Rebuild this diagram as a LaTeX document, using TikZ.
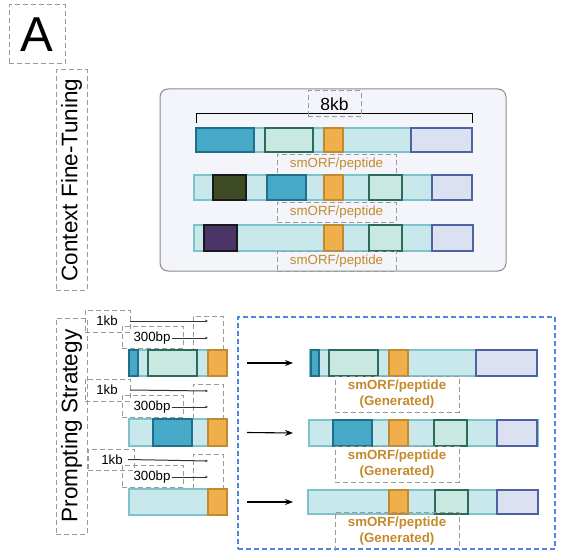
\documentclass[tikz,border=0pt]{standalone}
\usepackage{fontspec}
\setmainfont{Liberation Sans}
\usetikzlibrary{arrows.meta}
\definecolor{bbFill}{HTML}{C9E8EB}
\definecolor{bbEdge}{HTML}{7DC3CB}
\definecolor{bluF}{HTML}{45A9C7}
\definecolor{bluE}{HTML}{1F6F88}
\definecolor{grnF}{HTML}{C9E8DF}
\definecolor{grnE}{HTML}{2B6A5C}
\definecolor{orgF}{HTML}{F0AF4A}
\definecolor{orgE}{HTML}{C08A30}
\definecolor{lavF}{HTML}{DCE1F1}
\definecolor{lavE}{HTML}{4C62A2}
\definecolor{dkgF}{HTML}{3D4A23}
\definecolor{purF}{HTML}{4B3468}
\definecolor{txtO}{HTML}{C4892C}
\definecolor{panelF}{HTML}{F3F5FA}
\definecolor{panelE}{HTML}{8C8C8C}
\definecolor{dashG}{HTML}{9A9A9A}
\definecolor{blueD}{HTML}{4F87E0}
\newcommand\seg[7]{\node[#1,minimum width={(#4-#2)*1pt},minimum height={(#5-#3)*1pt}] (#6) at ({(#2+#4)/2},{(#3+#5)/2}) {#7};}
\tikzset{
  base/.style={rectangle,inner sep=0pt,outer sep=0pt},
  bb/.style={base,draw=bbEdge,fill=bbFill,line width=1.6pt},
  sblue/.style={base,draw=bluE,fill=bluF,line width=1.8pt},
  sgrn/.style={base,draw=grnE,fill=grnF,line width=1.8pt},
  sorg/.style={base,draw=orgE,fill=orgF,line width=1.8pt},
  slav/.style={base,draw=lavE,fill=lavF,line width=1.8pt},
  sdkg/.style={base,draw=black!90,fill=dkgF,line width=1.8pt},
  spur/.style={base,draw=black!90,fill=purF,line width=1.8pt},
  dbox/.style={base,draw=dashG,dash pattern=on 5pt off 3pt,line width=1pt},
  lbl/.style={text=txtO,font=\fontsize{13.3}{16}\selectfont},
  glbl/.style={text=txtO,font=\fontsize{13.3}{16}\selectfont\bfseries,align=center},
  small/.style={font=\fontsize{13.3}{16}\selectfont,inner sep=1pt},
  ruler/.style={line width=1pt,draw=black!80,-{Stealth[length=3pt,width=2.5pt]}},
  arr/.style={line width=1.1pt,-{Stealth[length=8pt,width=6pt]}},
}
\begin{document}
\begin{tikzpicture}[x=1pt,y=-1pt]
\useasboundingbox (0,0) rectangle (563,551);
% panel label
\seg{dbox}{9}{5}{65}{64}{A}{\fontsize{49}{50}\selectfont A}
% side titles
\seg{dbox}{56}{70}{87}{290}{ctx}{}
\node[rotate=90,font=\fontsize{22.5}{24}\selectfont] (ctxT) at (ctx.center) {Context Fine-Tuning};
\seg{dbox}{56}{318}{87}{534}{pro}{}
\node[rotate=90,font=\fontsize{22.5}{24}\selectfont] (proT) at (pro.center) {Prompting Strategy};
% top panel
\node[base,draw=panelE,fill=panelF,line width=1pt,rounded corners=8pt,minimum width=346pt,minimum height=182pt] (panel) at (333,180) {};
% row 1
\seg{bb}{196}{128}{472}{152}{r1}{}
\seg{sblue}{196}{128}{254}{152}{r1a}{}
\seg{sgrn}{265}{128}{313}{152}{r1b}{}
\seg{sorg}{324}{128}{343}{152}{r1c}{}
\seg{slav}{411}{128}{472}{152}{r1d}{}
\draw[line width=1pt] ([yshift=5pt]r1.north west) |- ([yshift=14pt]r1.north east) -- ([yshift=5pt]r1.north east);
\seg{dbox}{308}{91}{361}{117}{kb8}{\fontsize{17.5}{20}\selectfont 8kb}
\seg{dbox,lbl}{277}{154}{396}{174}{l1}{smORF/peptide}
% row 2
\seg{bb}{194}{175}{472}{200}{r2}{}
\seg{sdkg}{213}{175}{246}{200}{r2a}{}
\seg{sblue}{267}{175}{306}{200}{r2b}{}
\seg{sorg}{324}{175}{343}{200}{r2c}{}
\seg{sgrn}{369}{175}{402}{200}{r2d}{}
\seg{slav}{432}{175}{472}{200}{r2e}{}
\seg{dbox,lbl}{277}{202}{396}{222}{l2}{smORF/peptide}
% row 3
\seg{bb}{194}{225}{473}{251}{r3}{}
\seg{spur}{204}{225}{237}{251}{r3a}{}
\seg{sorg}{324}{225}{343}{251}{r3b}{}
\seg{sgrn}{369}{225}{402}{251}{r3c}{}
\seg{slav}{432}{225}{473}{251}{r3d}{}
\seg{dbox,lbl}{277}{251}{396}{271}{l3}{smORF/peptide}
% prompting groups
% group 1
\seg{dbox}{85}{310}{130}{332}{k1}{}
\node[small] (k1t) at (107,321) {1kb};
\seg{dbox}{122}{326}{183}{348}{p1}{}
\node[small] (p1t) at (152,338) {300bp};
\seg{dbox}{193}{316}{223}{352}{w1}{}
\coordinate (k1e) at (208,321);
\coordinate (p1e) at (208,338);
\draw[ruler] (k1.east) -- (k1e);
\draw[ruler] (p1t.east) -- (p1e);
\seg{bb}{129}{350}{227}{376}{L1}{}
\seg{sblue}{129}{350}{138}{376}{L1a}{}
\seg{sgrn}{148}{350}{197}{376}{L1b}{}
\seg{sorg}{208}{350}{227}{376}{L1c}{}
% group 2
\seg{dbox}{85}{379}{130}{401}{k2}{}
\node[small] (k2t) at (107,390) {1kb};
\seg{dbox}{122}{395}{183}{417}{p2}{}
\node[small] (p2t) at (152,407) {300bp};
\seg{dbox}{193}{384}{223}{422}{w2}{}
\coordinate (k2e) at (208,391);
\coordinate (p2e) at (208,407);
\draw[ruler] (k2.east) -- (k2e);
\draw[ruler] (p2t.east) -- (p2e);
\seg{bb}{129}{419}{227}{446}{L2}{}
\seg{sblue}{153}{419}{192}{446}{L2a}{}
\seg{sorg}{208}{419}{227}{446}{L2b}{}
% group 3
\seg{dbox}{88}{449}{134}{470}{k3}{}
\node[small] (k3t) at (112,460) {1kb};
\seg{dbox}{122}{465}{183}{487}{p3}{}
\node[small] (p3t) at (152,477) {300bp};
\seg{dbox}{193}{454}{223}{492}{w3}{}
\coordinate (k3e) at (208,461);
\coordinate (p3e) at (208,477);
\draw[ruler] ([xshift=-6pt]k3.east) -- (k3e);
\draw[ruler] (p3t.east) -- (p3e);
\seg{bb}{129}{489}{227}{515}{L3}{}
\seg{sorg}{208}{489}{227}{515}{L3a}{}
% generated panel
\node[base,draw=blueD,dash pattern=on 5pt off 3pt,line width=1.3pt,minimum width=317pt,minimum height=232pt] (gen) at (396.5,433) {};
% row A
\seg{bb}{310}{350}{537}{376}{R1}{}
\seg{sblue}{311}{350}{319}{376}{R1a}{}
\seg{sgrn}{329}{350}{378}{376}{R1b}{}
\seg{sorg}{389}{350}{408}{376}{R1c}{}
\seg{slav}{476}{350}{537}{376}{R1d}{}
\seg{dbox,glbl}{335}{376}{459}{412}{g1}{smORF/peptide\\(Generated)}
% row B
\seg{bb}{309}{420}{538}{446}{R2}{}
\seg{sblue}{333}{420}{372}{446}{R2a}{}
\seg{sorg}{389}{420}{408}{446}{R2b}{}
\seg{sgrn}{434}{420}{467}{446}{R2c}{}
\seg{slav}{497}{420}{537}{446}{R2d}{}
\seg{dbox,glbl}{335}{446}{459}{482}{g2}{smORF/peptide\\(Generated)}
% row C
\seg{bb}{308}{490}{538}{514}{R3}{}
\seg{sorg}{389}{490}{408}{514}{R3a}{}
\seg{sgrn}{435}{490}{468}{514}{R3b}{}
\seg{slav}{497}{490}{538}{514}{R3c}{}
\seg{dbox}{335}{512}{459}{558}{g3}{}
\node[glbl] (g3t) at (397,531.5) {smORF/peptide\\(Generated)};
% arrows
\draw[arr] ([xshift=20pt]L1.east) -- ([xshift=-17pt]R1.west);
\draw[arr] ([xshift=20pt]L2.east) -- ([xshift=-16pt]R2.west);
\draw[arr] ([xshift=20pt]L3.east) -- ([xshift=-15pt]R3.west);
\end{tikzpicture}
\end{document}
